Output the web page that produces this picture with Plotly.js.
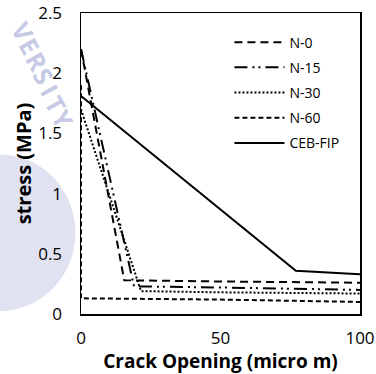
<!DOCTYPE html>
<html>
<head>
<meta charset="utf-8">
<script src="https://cdn.plot.ly/plotly-3.0.1.min.js"></script>
<style>
  html, body { margin: 0; padding: 0; background: #ffffff; }
  #chart { width: 376px; height: 374px; }
</style>
</head>
<body>
<div id="chart"></div>
<script>
// Tension-softening curves: stress vs crack opening
const seriesNames = ['N-0', 'N-15', 'N-30', 'N-60', 'CEB-FIP'];

const n0X = [0, 15.5, 50, 100];
const n0Y = [2.2, 0.28, 0.27, 0.26];

const n15X = [0, 19, 50, 100];
const n15Y = [2.2, 0.23, 0.22, 0.2];

const n30X = [0, 21.5, 50, 100];
const n30Y = [1.7, 0.19, 0.18, 0.17];

const n60X = [0, 0, 50, 100];
const n60Y = [1.9, 0.13, 0.12, 0.1];

const cebX = [0, 77, 100];
const cebY = [1.81, 0.36, 0.33];

const xTicks = [0, 50, 100];
const yTicks = [0, 0.5, 1, 1.5, 2, 2.5];

const xs = [n0X, n15X, n30X, n60X, cebX];
const ys = [n0Y, n15Y, n30Y, n60Y, cebY];
const dashes = ['8px,5px', '13px,5px,2px,4px,2px,5px', '2px,2px', '5px,3px', 'solid'];

const traces = seriesNames.map((name, i) => ({
  type: 'scatter',
  mode: 'lines',
  name: name,
  x: xs[i],
  y: ys[i],
  legendgroup: 'g' + i,
  line: { color: '#000000', width: 2, dash: dashes[i] }
}));

const fontFamily = '"Open Sans", Lato, sans-serif';
const seal = '#c6cae5';

// Pale seal lettering in the left margin, one letter per annotation (pixel centres)
const sealLetters = ['V', 'E', 'R', 'S', 'I', 'T', 'Y'];
const sealPx = [[23, 31], [30, 46], [37, 61], [44, 76], [50, 90], [56, 104], [63, 119]];
const plotL = 81, plotW = 279, plotB = 314, plotH = 301;
const sealAnnotations = sealLetters.map((ch, i) => ({
  xref: 'paper', yref: 'paper',
  x: (sealPx[i][0] - plotL) / plotW,
  y: (plotB - sealPx[i][1]) / plotH,
  xanchor: 'center', yanchor: 'middle',
  text: '<b>' + ch + '</b>',
  showarrow: false,
  textangle: 61,
  font: { size: 25, color: seal, family: '"Open Sans", sans-serif' }
}));

const layout = {
  width: 376,
  height: 374,
  margin: { l: 81, r: 16, t: 13, b: 60 },
  paper_bgcolor: '#ffffff',
  plot_bgcolor: '#ffffff',
  font: { family: fontFamily, color: '#000000' },
  showlegend: true,
  legend: {
    x: 0.532, y: 0.955, xanchor: 'left', yanchor: 'top',
    bgcolor: 'rgba(0,0,0,0)',
    font: { size: 14, family: fontFamily },
    traceorder: 'grouped',
    tracegroupgap: 4,
    itemwidth: 50
  },
  xaxis: {
    range: [0, 100],
    tickvals: xTicks,
    ticks: '',
    showgrid: false,
    zeroline: false,
    showline: true, mirror: true,
    linecolor: '#000000', linewidth: 1.5,
    tickfont: { size: 17 },
    ticklabelstandoff: 8,
    title: { text: '<b>Crack Opening (micro m)</b>', font: { size: 19 }, standoff: 3 }
  },
  yaxis: {
    range: [0, 2.5],
    tickvals: yTicks,
    ticktext: yTicks.map(v => String(v)),
    ticks: '',
    showgrid: false,
    zeroline: false,
    showline: true, mirror: true,
    linecolor: '#000000', linewidth: 1.5,
    tickfont: { size: 17 },
    ticklabelstandoff: 14,
    title: { text: '<b>stress (MPa)</b>', font: { size: 20 }, standoff: 1 }
  },
  shapes: [
    {
      type: 'circle', xref: 'paper', yref: 'paper', layer: 'below',
      x0: -0.56, x1: -0.02, y0: 0.01, y1: 0.53,
      fillcolor: seal, opacity: 0.55, line: { width: 0 }
    }
  ],
  annotations: sealAnnotations
};

Plotly.newPlot('chart', traces, layout, { displayModeBar: false, staticPlot: true });
</script>
</body>
</html>
